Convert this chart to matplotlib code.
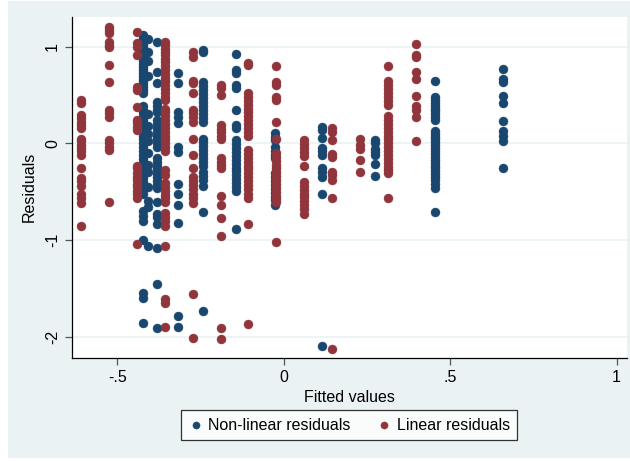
import numpy as np
import matplotlib.pyplot as plt
from matplotlib.patches import Rectangle

plt.rcParams['font.family'] = ['Liberation Sans', 'DejaVu Sans']

navy = '#1A476F'
maroon = '#90353B'
bg = '#EAF2F3'

# linear residuals: one column per fitted value
lin_x = [-0.608, -0.524, -0.441, -0.356, -0.272, -0.188, -0.107,
         -0.023, 0.061, 0.145, 0.229, 0.313, 0.398]
lin_y = [
    [0.45, 0.42, 0.29, 0.26, 0.22, 0.19, 0.16, 0.05, 0.02, -0.02, -0.05, -0.08,
     -0.12, -0.26, -0.36, -0.39, -0.44, -0.52, -0.56, -0.62, -0.85],
    [1.20, 1.17, 1.14, 1.05, 1.02, 1.0, 0.81, 0.63, 0.34, 0.31, 0.27, 0.03, 0.0,
     -0.04, -0.07, -0.61],
    [1.15, 1.04, 1.0, 0.91, 0.58, 0.55, 0.38, 0.24, 0.21, 0.17, 0.14, -0.23,
     -0.26, -0.31, -0.35, -0.38, -0.42, -0.45, -0.49, -0.52, -0.56, -1.04],
    [1.05, 1.02, 0.98, 0.95, 0.91, 0.87, 0.84, 0.80, 0.76, 0.72, 0.68, 0.64,
     0.60, 0.56, 0.52, 0.48, 0.45, 0.36, 0.32, 0.28, 0.24, 0.20, 0.16, 0.12,
     0.08, 0.04, 0.0, -0.04, -0.08, -0.28, -0.33, -0.41, -0.45, -0.49, -0.53,
     -0.57, -0.61, -0.72, -0.76, -0.80, -0.85, -1.06, -1.61, -1.65, -1.90],
    [0.94, 0.89, 0.65, 0.62, 0.52, 0.34, 0.31, 0.27, 0.22, 0.05, -0.12, -0.25,
     -0.35, -0.39, -0.43, -0.47, -0.52, -0.56, -0.62, -1.56, -2.01],
    [0.60, 0.57, 0.50, 0.19, 0.15, 0.12, 0.08, 0.05, -0.15, -0.19, -0.22,
     -0.25, -0.54, -0.64, -0.77, -0.96, -1.91, -2.02],
    [0.83, 0.81, 0.52, 0.48, 0.44, 0.40, 0.36, 0.32, 0.28, 0.24, 0.20, 0.16,
     0.12, 0.08, -0.07, -0.11, -0.15, -0.19, -0.23, -0.27, -0.31, -0.35,
     -0.39, -0.43, -0.47, -0.52, -0.56, -0.83, -1.87],
    [0.80, 0.63, 0.60, 0.48, 0.45, 0.22, 0.05, -0.10, -0.14, -0.18, -0.22,
     -0.26, -0.30, -0.34, -0.38, -0.42, -0.46, -0.50, -0.54, -0.58, -0.61,
     -1.02],
    [0.03, -0.01, -0.05, -0.09, -0.13, -0.23, -0.40, -0.44, -0.48, -0.52,
     -0.55, -0.60, -0.64, -0.68, -0.73],
    [0.16, 0.12, 0.03, -0.11, -0.14, -0.30, -0.33, -0.38, -0.56, -2.13],
    [0.04, -0.02, -0.06, -0.17, -0.30],
    [0.80, 0.64, 0.60, 0.56, 0.52, 0.48, 0.44, 0.40, 0.28, 0.24, 0.20, 0.16,
     0.12, 0.08, 0.04, 0.0, -0.04, -0.08, -0.12, -0.16, -0.20, -0.24, -0.28,
     -0.31, -0.56],
    [1.03, 0.91, 0.89, 0.74, 0.67, 0.49, 0.39, 0.34, 0.27, 0.02],
]

# non-linear residuals
nl_x = [-0.422, -0.408, -0.38, -0.318, -0.243, -0.144, -0.027, 0.114,
        0.273, 0.453, 0.658]
nl_y = [
    [1.12, 1.09, 1.06, 1.03, 1.0, 0.97, 0.94, 0.91, 0.88, 0.85, 0.82, 0.79,
     0.76, 0.73, 0.70, 0.67, 0.64, 0.61, 0.58, 0.55, 0.52, 0.39, 0.35, 0.31,
     0.27, 0.24, 0.20, 0.16, 0.12, 0.08, 0.04, 0.0, -0.04, -0.08, -0.12,
     -0.16, -0.20, -0.24, -0.28, -0.32, -0.36, -0.40, -0.44, -0.48, -0.52,
     -0.70, -0.75, -0.80, -1.0, -1.55, -1.60, -1.86],
    [1.08, 0.95, 0.85, 0.70, 0.30, 0.18, 0.10, 0.02, -0.10, -0.22, -0.30,
     -0.45, -0.60, -0.66, -1.06],
    [1.05, 0.74, 0.62, 0.43, 0.39, 0.35, 0.32, 0.24, 0.20, 0.16, 0.12, 0.08,
     0.04, 0.0, -0.04, -0.15, -0.19, -0.23, -0.27, -0.31, -0.35, -0.39, -0.43,
     -0.46, -0.61, -0.73, -0.76, -0.83, -1.08, -1.45, -1.91],
    [0.73, 0.62, 0.32, 0.27, 0.21, -0.04, -0.09, -0.42, -0.52, -0.64, -0.82,
     -1.79, -1.90],
    [0.97, 0.94, 0.63, 0.59, 0.55, 0.51, 0.47, 0.43, 0.39, 0.35, 0.30, 0.26,
     0.22, 0.05, 0.01, -0.03, -0.07, -0.11, -0.15, -0.19, -0.23, -0.30, -0.34,
     -0.38, -0.44, -0.71, -1.73],
    [0.92, 0.76, 0.73, 0.60, 0.57, 0.35, 0.19, 0.16, 0.03, -0.01, -0.05, -0.09,
     -0.13, -0.17, -0.21, -0.25, -0.29, -0.33, -0.37, -0.41, -0.45, -0.49,
     -0.89],
    [0.11, 0.07, 0.03, -0.04, -0.08, -0.12, -0.15, -0.31, -0.35, -0.39, -0.43,
     -0.47, -0.51, -0.55, -0.59, -0.64],
    [0.17, 0.14, 0.06, -0.05, -0.08, -0.12, -0.26, -0.30, -0.35, -0.52, -2.10],
    [0.03, 0.0, -0.06, -0.09, -0.12, -0.21, -0.34],
    [0.65, 0.48, 0.45, 0.42, 0.39, 0.36, 0.33, 0.30, 0.27, 0.24, 0.13, 0.10,
     0.07, 0.04, 0.01, -0.02, -0.05, -0.08, -0.11, -0.14, -0.17, -0.20, -0.23,
     -0.26, -0.29, -0.32, -0.35, -0.38, -0.42, -0.46, -0.71],
    [0.77, 0.67, 0.63, 0.49, 0.42, 0.23, 0.13, 0.08, 0.02, -0.25],
]

def flatten(xs, ys):
    px, py = [], []
    for x, col in zip(xs, ys):
        px += [x] * len(col)
        py += col
    return np.array(px), np.array(py)

nx, ny = flatten(nl_x, nl_y)
lx, ly = flatten(lin_x, lin_y)

fig = plt.figure(figsize=(6.30, 4.61), dpi=100, facecolor='white')
fig.patches.append(Rectangle((8 / 630, 3 / 461), 622 / 630, 457 / 461,
                             transform=fig.transFigure, facecolor=bg,
                             edgecolor='none', zorder=-10))

ax = fig.add_axes([71.7 / 630, 1 - 358 / 461, (627 - 71.7) / 630, (358 - 16.7) / 461])
ax.set_facecolor('white')
ax.scatter(nx, ny, s=42, color=navy, edgecolors=navy, linewidths=0.3,
           label='Non-linear residuals', zorder=3)
ax.scatter(lx, ly, s=42, color=maroon, edgecolors=maroon, linewidths=0.3,
           label='Linear residuals', zorder=4)

ax.set_xlim(-0.637, 1.031)
ax.set_ylim(-2.22, 1.31)
ax.set_xticks([-0.5, 0, 0.5, 1])
ax.set_xticklabels(['-.5', '0', '.5', '1'])
ax.set_yticks([1, 0, -1, -2])
ax.set_yticklabels(['1', '0', '-1', '-2'], rotation=90, va='center')
ax.tick_params(axis='both', labelsize=11.5, length=5, width=0.9, color='#555555')
ax.grid(axis='y', color=bg, linewidth=1.2, zorder=0)
ax.set_axisbelow(True)
for s in ['top', 'right']:
    ax.spines[s].set_visible(False)
for s in ['left', 'bottom']:
    ax.spines[s].set_linewidth(0.9)
ax.set_xlabel('Fitted values', fontsize=11.5, labelpad=4)
ax.set_ylabel('Residuals', fontsize=11.5, labelpad=6)

leg = fig.legend(loc='center', bbox_to_anchor=(349 / 630, 1 - 425 / 461), ncol=2,
                 fontsize=11.5, frameon=True, fancybox=False, markerscale=0.8,
                 handletextpad=0.3, columnspacing=1.6, borderpad=0.45,
                 handlelength=1.0)
leg.get_frame().set_edgecolor('black')
leg.get_frame().set_linewidth(0.9)

fig.savefig('out.png', dpi=100, facecolor=fig.get_facecolor())
